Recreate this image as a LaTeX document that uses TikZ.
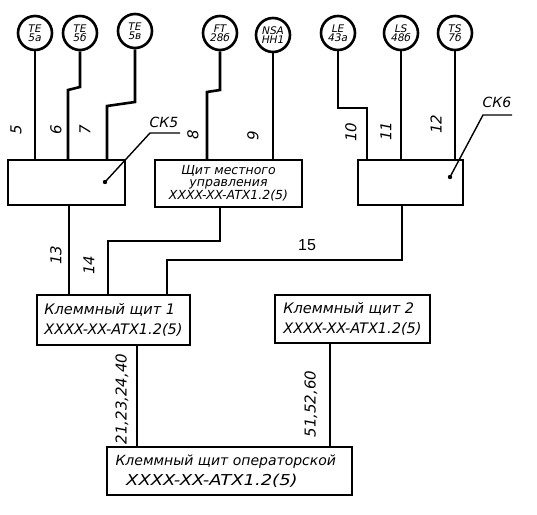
\documentclass[tikz,border=0pt]{standalone}
\usepackage{fontspec}
\setmainfont{DejaVu Sans}
\newfontfamily\arialf{Liberation Sans}
\begin{document}
\begin{tikzpicture}[x=1pt,y=-1pt,
  wire/.style={line width=2.6pt},
  lead/.style={line width=1.4pt},
  bub/.style={circle, draw, line width=2.6pt, minimum size=34pt, inner sep=0pt,
    font=\fontsize{10.5}{9.5}\selectfont\itshape, align=center},
  box/.style={draw, line width=2.6pt, inner sep=0pt},
  boxtxt/.style={font=\fontsize{14.5}{20}\selectfont\itshape, align=left},
  num/.style={font=\fontsize{15}{15}\selectfont\itshape, rotate=90, inner sep=0pt}]
\useasboundingbox (0,0) rectangle (537,514);
% instrument bubbles
\node[bub] (te5a) at (35,33) {TE\\5а};
\node[bub] (te5b) at (80,33) {TE\\5б};
\node[bub] (te5v) at (135,31) {TE\\5в};
\node[bub] (ft) at (220,33) {FT\\28б};
\node[bub] (nsa) at (273,35) {NSA\\HH1};
\node[bub] (le) at (338,33) {LE\\43а};
\node[bub] (ls) at (401,33) {LS\\48б};
\node[bub] (ts) at (455,33) {TS\\7б};
% boxes
\node[box, minimum width=117pt, minimum height=45pt] (ck5) at (66.5,182.5) {};
\node[box, minimum width=147pt, minimum height=47pt, align=center,
  font=\fontsize{12.5}{12}\selectfont\itshape] (mid) at (228.5,183.5)
  {Щит местного\\управления\\XXXX-XX-ATX1.2(5)};
\node[box, minimum width=105pt, minimum height=45pt] (ck6) at (410.5,182.5) {};
\node[box, boxtxt, minimum width=153pt, minimum height=50pt] (ks1) at (113.5,320)
  {Клеммный щит 1\\XXXX-XX-ATX1.2(5)};
\node[box, boxtxt, minimum width=155pt, minimum height=48pt] (ks2) at (352.5,319)
  {Клеммный щит 2\\XXXX-XX-ATX1.2(5)};
\node[box, minimum width=245pt, minimum height=48pt] (op) at (229.5,471) {};
\node[font=\fontsize{14}{14}\selectfont\itshape, anchor=west] (opt1) at (112,462) {Клеммный щит операторской};
\node[font=\fontsize{15}{15}\selectfont\itshape, anchor=west, xscale=1.2] (opt2) at (122,481) {XXXX-XX-ATX1.2(5)};
% wires to boxes
\draw[wire] (te5a.south) -- (35,160);
\draw[wire] (te5b.south) -- (80,87) -- (68,90) -- (68,160);
\draw[wire] (te5v.south) -- (135,102) -- (107,106) -- (107,160);
\draw[wire] (ft.south) -- (220,90) -- (207,92) -- (207,160);
\draw[wire] (nsa.south) -- (273,160);
\draw[wire] (le.south) -- (338,108) -- (367,108) -- (367,160);
\draw[wire] (ls.south) -- (401,160);
\draw[wire] (ts.south) -- (455,160);
% lower wires
\draw[wire] (69,205) -- (69,295);
\draw[wire] (220,207) -- (220,241) -- (108,241) -- (108,295);
\draw[wire] (402,205) -- (402,260) -- (167,260) -- (167,295);
\draw[wire] (137,345) -- (137,447);
\draw[wire] (330,343) -- (330,447);
% leaders
\fill (105,182) circle (2.2);
\draw[lead] (105,182) -- (150,133) -- (180,133);
\node[font=\fontsize{14}{14}\selectfont\itshape] (ck5l) at (164,122) {СК5};
\fill (450,177) circle (2.2);
\draw[lead] (450,177) -- (483,115) -- (512,115);
\node[font=\fontsize{14}{14}\selectfont\itshape] (ck6l) at (497,102) {СК6};
% numbers
\node[num] at (16,130) {5};
\node[num] at (56,130) {6};
\node[num] at (85,130) {7};
\node[num] at (193,135) {8};
\node[num] at (253,136) {9};
\node[num] at (351,132) {10};
\node[num] at (386,131) {11};
\node[num] at (436,124) {12};
\node[num] at (56,255) {13};
\node[num] at (89,265) {14};
\node[font=\arialf\fontsize{16}{16}\selectfont] at (307,245) {15};
\node[num] at (122,399) {21,23,24,40};
\node[num] at (311,404) {51,52,60};
\end{tikzpicture}
\end{document}
